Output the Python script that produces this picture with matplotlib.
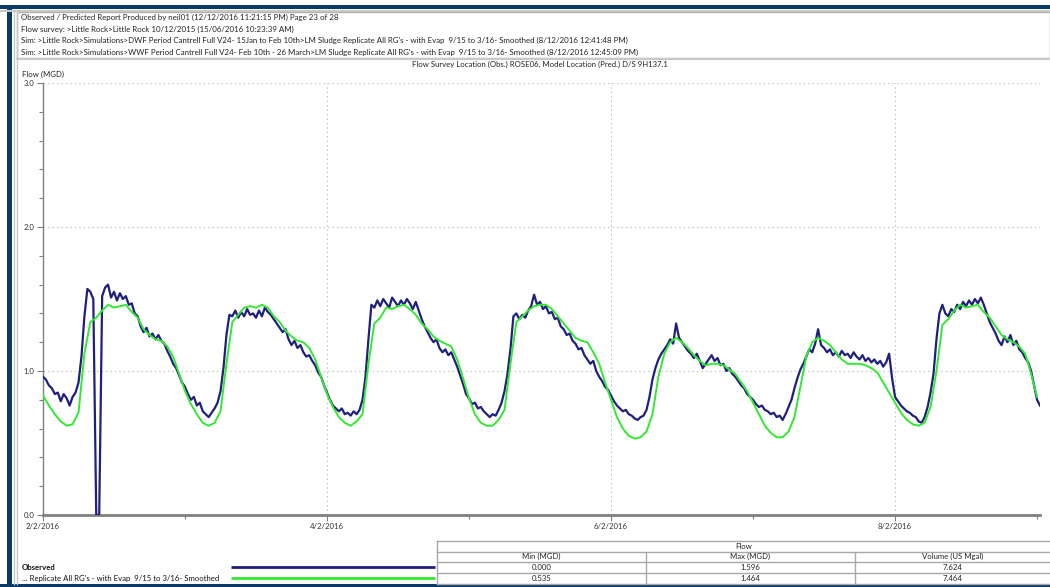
import numpy as np
import pandas as pd
import matplotlib
matplotlib.use("Agg")
import matplotlib.pyplot as plt
import matplotlib.dates as mdates
from matplotlib.ticker import MultipleLocator, FuncFormatter
from matplotlib.patches import Rectangle

plt.rcParams['font.family'] = ['Lato', 'DejaVu Sans']

###########################################################
### ---------------------- DATA ---------------------------
###########################################################

start_time = '2016-02-02 00:00'

# observed flow (MGD), 30 min steps from 2/2/2016
obs_flow = [
    0.96, 0.94, 0.90, 0.88, 0.84, 0.85, 0.79, 0.84, 0.81, 0.76, 0.82, 0.85,
    0.92, 1.10, 1.38, 1.57, 1.55, 1.50, 0.00, 0.00, 1.52, 1.58, 1.60, 1.51,
    1.55, 1.49, 1.54, 1.50, 1.52, 1.46, 1.47, 1.40, 1.38, 1.31, 1.27, 1.30,
    1.24, 1.26, 1.22, 1.25, 1.21, 1.19, 1.14, 1.10, 1.05, 1.02, 0.97, 0.92,
    0.89, 0.84, 0.80, 0.82, 0.76, 0.78, 0.72, 0.70, 0.68, 0.71, 0.74, 0.78,
    0.86, 1.02, 1.25, 1.39, 1.38, 1.42, 1.37, 1.41, 1.38, 1.43, 1.39, 1.40,
    1.37, 1.42, 1.38, 1.44, 1.41, 1.39, 1.36, 1.33, 1.30, 1.27, 1.29, 1.22,
    1.18, 1.21, 1.16, 1.18, 1.13, 1.10, 1.11, 1.07, 1.04, 0.99, 0.96, 0.90,
    0.85, 0.80, 0.76, 0.74, 0.72, 0.74, 0.70, 0.71, 0.69, 0.72, 0.70, 0.73,
    0.80, 0.96, 1.22, 1.46, 1.44, 1.49, 1.45, 1.50, 1.47, 1.44, 1.51, 1.48,
    1.45, 1.49, 1.46, 1.50, 1.47, 1.43, 1.48, 1.42, 1.36, 1.31, 1.27, 1.23,
    1.20, 1.22, 1.16, 1.13, 1.15, 1.11, 1.13, 1.08, 1.03, 0.97, 0.91, 0.84,
    0.81, 0.77, 0.78, 0.74, 0.75, 0.72, 0.70, 0.68, 0.70, 0.69, 0.73, 0.78,
    0.86, 0.98, 1.15, 1.38, 1.40, 1.36, 1.39, 1.37, 1.42, 1.45, 1.53, 1.46,
    1.48, 1.43, 1.45, 1.40, 1.41, 1.36, 1.37, 1.31, 1.29, 1.25, 1.26, 1.21,
    1.19, 1.15, 1.16, 1.11, 1.08, 1.05, 1.07, 1.00, 0.96, 0.93, 0.89, 0.87,
    0.83, 0.79, 0.76, 0.74, 0.72, 0.73, 0.70, 0.69, 0.67, 0.66, 0.68, 0.69,
    0.73, 0.82, 0.94, 1.02, 1.08, 1.12, 1.15, 1.18, 1.22, 1.19, 1.33, 1.23,
    1.20, 1.17, 1.14, 1.12, 1.09, 1.12, 1.07, 1.02, 1.05, 1.08, 1.11, 1.07,
    1.09, 1.04, 1.05, 1.00, 1.02, 0.98, 0.96, 0.93, 0.90, 0.88, 0.84, 0.82,
    0.80, 0.77, 0.75, 0.76, 0.73, 0.72, 0.70, 0.71, 0.68, 0.69, 0.66, 0.70,
    0.75, 0.80, 0.88, 0.95, 1.01, 1.05, 1.10, 1.15, 1.13, 1.19, 1.29, 1.18,
    1.16, 1.13, 1.15, 1.11, 1.13, 1.10, 1.14, 1.11, 1.12, 1.09, 1.13, 1.10,
    1.08, 1.11, 1.07, 1.09, 1.06, 1.08, 1.05, 1.07, 1.03, 1.06, 1.12, 0.95,
    0.82, 0.79, 0.76, 0.74, 0.72, 0.71, 0.69, 0.68, 0.65, 0.64, 0.68, 0.75,
    0.85, 0.98, 1.22, 1.40, 1.46, 1.40, 1.38, 1.43, 1.41, 1.46, 1.43, 1.48,
    1.45, 1.49, 1.46, 1.50, 1.47, 1.51, 1.46, 1.40, 1.34, 1.30, 1.26, 1.21,
    1.18, 1.24, 1.20, 1.25, 1.18, 1.21, 1.15, 1.13, 1.09, 1.06, 1.00, 0.90,
    0.80, 0.76,
]

# predicted (smoothed) flow (MGD), hourly from 2/2/2016
pred_flow = [
    0.83, 0.76, 0.70, 0.65, 0.62, 0.63, 0.71, 1.12, 1.34, 1.37, 1.42, 1.46,
    1.44, 1.45, 1.46, 1.41, 1.37, 1.29, 1.25, 1.22, 1.21, 1.17, 1.10, 0.98,
    0.86, 0.77, 0.70, 0.64, 0.62, 0.64, 0.72, 1.05, 1.34, 1.39, 1.44, 1.45,
    1.44, 1.46, 1.44, 1.38, 1.34, 1.28, 1.24, 1.21, 1.20, 1.16, 1.08, 0.96,
    0.84, 0.75, 0.68, 0.64, 0.62, 0.65, 0.70, 1.05, 1.33, 1.37, 1.44, 1.43,
    1.45, 1.46, 1.43, 1.39, 1.33, 1.29, 1.24, 1.21, 1.19, 1.17, 1.08, 0.95,
    0.81, 0.70, 0.64, 0.62, 0.62, 0.66, 0.73, 1.05, 1.34, 1.38, 1.42, 1.45,
    1.46, 1.46, 1.43, 1.38, 1.33, 1.28, 1.23, 1.21, 1.20, 1.13, 1.05, 0.92,
    0.80, 0.68, 0.60, 0.55, 0.53, 0.54, 0.58, 0.70, 0.96, 1.12, 1.20, 1.23,
    1.20, 1.16, 1.11, 1.07, 1.04, 1.05, 1.05, 1.04, 1.01, 0.98, 0.92, 0.86,
    0.78, 0.70, 0.62, 0.57, 0.54, 0.54, 0.58, 0.68, 0.89, 1.10, 1.20, 1.23,
    1.21, 1.18, 1.13, 1.08, 1.05, 1.05, 1.05, 1.04, 1.02, 0.99, 0.92, 0.85,
    0.78, 0.71, 0.66, 0.63, 0.62, 0.64, 0.75, 1.00, 1.32, 1.36, 1.42, 1.46,
    1.44, 1.45, 1.46, 1.41, 1.37, 1.31, 1.25, 1.22, 1.20, 1.17, 1.12, 0.98,
    0.82,
]

header_lines = [
    "Observed / Predicted Report Produced by neil01 (12/12/2016 11:21:15 PM) Page 23 of 28",
    "Flow survey: >Little Rock>Little Rock 10/12/2015 (15/06/2016 10:23:39 AM)",
    "Sim: >Little Rock>Simulations>DWF Period Cantrell Full V24- 15Jan to Feb 10th>LM Sludge Replicate All RG's - with Evap  9/15 to 3/16- Smoothed (8/12/2016 12:41:48 PM)",
    "Sim: >Little Rock>Simulations>WWF Period Cantrell Full V24- Feb 10th - 26 March>LM Sludge Replicate All RG's - with Evap  9/15 to 3/16- Smoothed (8/12/2016 12:45:09 PM)",
]
plot_title = "Flow Survey Location (Obs.) ROSE06, Model Location (Pred.) D/S 9H137.1"
y_label = "Flow (MGD)"

series_names = ["Observed", "... Replicate All RG's - with Evap  9/15 to 3/16- Smoothed"]
table_group = "Flow"
table_cols = ["Min (MGD)", "Max (MGD)", "Volume (US Mgal)"]
table_obs = ["0.000", "1.596", "7.624"]
table_pred = ["0.535", "1.464", "7.464"]

navy = '#1f1f7e'
green = '#33e833'
frame_blue = '#0b3a66'
grey = '#a8a8a8'

###########################################################
### ---------------------- FIGURE -------------------------
###########################################################

W, H = 1050, 587
fig = plt.figure(figsize=(W / 100, H / 100), dpi=100)
fig.patch.set_facecolor('white')

# overlay in pixel coordinates for the window furniture
deco = fig.add_axes([0, 0, 1, 1], zorder=0)
deco.set_xlim(0, W)
deco.set_ylim(H, 0)
deco.axis('off')

deco.add_patch(Rectangle((0, 5), W, 4, color=frame_blue, lw=0))
deco.add_patch(Rectangle((7, 5), 5, H - 5, color=frame_blue, lw=0))
deco.add_patch(Rectangle((0, 584), W, 3, color=frame_blue, lw=0))
deco.plot([0, W], [10.5, 10.5], color='#c8c8c8', lw=1.5)
deco.plot([13.5, 13.5], [10, 584], color='#c8c8c8', lw=1)
deco.plot([16.5, 16.5], [10, 584], color='#c8c8c8', lw=1)

# header box
deco.add_patch(Rectangle((17, 12), W - 17, 46, fill=False, ec='#b0b0b0', lw=1))
deco.plot([17, W], [58.5, 58.5], color='#c8c8c8', lw=1.5)
for i, line in enumerate(header_lines):
    deco.text(21, 17.5 + i * 11.5, line, fontsize=5.7, va='center', ha='left', color='#222222')

deco.text(540, 64, plot_title, fontsize=5.6, ha='center', va='center', color='#222222')
deco.text(22, 74, y_label, fontsize=5.6, ha='left', va='center', color='#222222')

# legend
leg_colors = [navy, green]
for i, (name, col) in enumerate(zip(series_names, leg_colors)):
    yy = 567 + i * 11
    deco.text(22, yy, name, fontsize=5.6, ha='left', va='center', color='#111111',
              fontweight='bold' if i == 0 else 'normal')
    deco.plot([231, 435], [yy, yy], color=col, lw=2, solid_capstyle='butt')

# stats table
tx = [437, 646, 855, W]
ty = [541, 551.5, 562, 573, 584]
for yy in ty:
    deco.plot([tx[0], tx[-1]], [yy, yy], color=grey, lw=1)
deco.plot([tx[0], tx[0]], [ty[0], ty[-1]], color=grey, lw=1)
for xx in tx[1:3]:
    deco.plot([xx, xx], [ty[1], ty[-1]], color=grey, lw=1)
deco.text((tx[0] + tx[-1]) / 2, (ty[0] + ty[1]) / 2, table_group, fontsize=5.6,
          ha='center', va='center', color='#222222')
for r, row in enumerate([table_cols, table_obs, table_pred]):
    for c, val in enumerate(row):
        deco.text((tx[c] + tx[c + 1]) / 2, (ty[r + 1] + ty[r + 2]) / 2, val, fontsize=5.6,
                  ha='center', va='center', color='#222222')

###########################################################
### ---------------------- CHART --------------------------
###########################################################

left, right, top, bottom = 43, 1040, 83, 515
ax = fig.add_axes([left / W, (H - bottom) / H, (right - left) / W, (bottom - top) / H], zorder=1)
ax.patch.set_alpha(0)

obs_time = pd.date_range(start_time, periods=len(obs_flow), freq='30min')
pred_time = pd.date_range(start_time, periods=len(pred_flow), freq='h')

ax.plot(obs_time, obs_flow, color=navy, lw=1.6, zorder=3)
ax.plot(pred_time, pred_flow, color=green, lw=1.4, zorder=4)

ax.set_xlim(pd.Timestamp(start_time), obs_time[-1])
ax.set_ylim(0, 3.0)

ax.xaxis.set_major_locator(mdates.DayLocator(interval=2))
ax.xaxis.set_minor_locator(mdates.DayLocator())
ax.xaxis.set_major_formatter(FuncFormatter(
    lambda v, pos: "{d.day}/{d.month}/{d.year}".format(d=mdates.num2date(v))))
ax.yaxis.set_major_locator(MultipleLocator(1.0))
ax.yaxis.set_minor_locator(MultipleLocator(0.2))
ax.yaxis.set_major_formatter(FuncFormatter(lambda v, pos: f"{v:.1f}"))

ax.grid(True, which='major', color='#c8c8c8', linestyle=(0, (1.5, 2.5)), lw=0.8)
ax.tick_params(axis='both', which='major', labelsize=5.6, length=4, width=0.8,
               colors='#808080', labelcolor='#333333', pad=2)
ax.tick_params(axis='both', which='minor', length=3, width=0.8, colors='#808080')

for s in ['top', 'right']:
    ax.spines[s].set_visible(False)
ax.spines['left'].set_color('#808080')
ax.spines['left'].set_linewidth(1)
ax.spines['bottom'].set_color('#808080')
ax.spines['bottom'].set_linewidth(2)

plt.savefig('out.png', dpi=100)
